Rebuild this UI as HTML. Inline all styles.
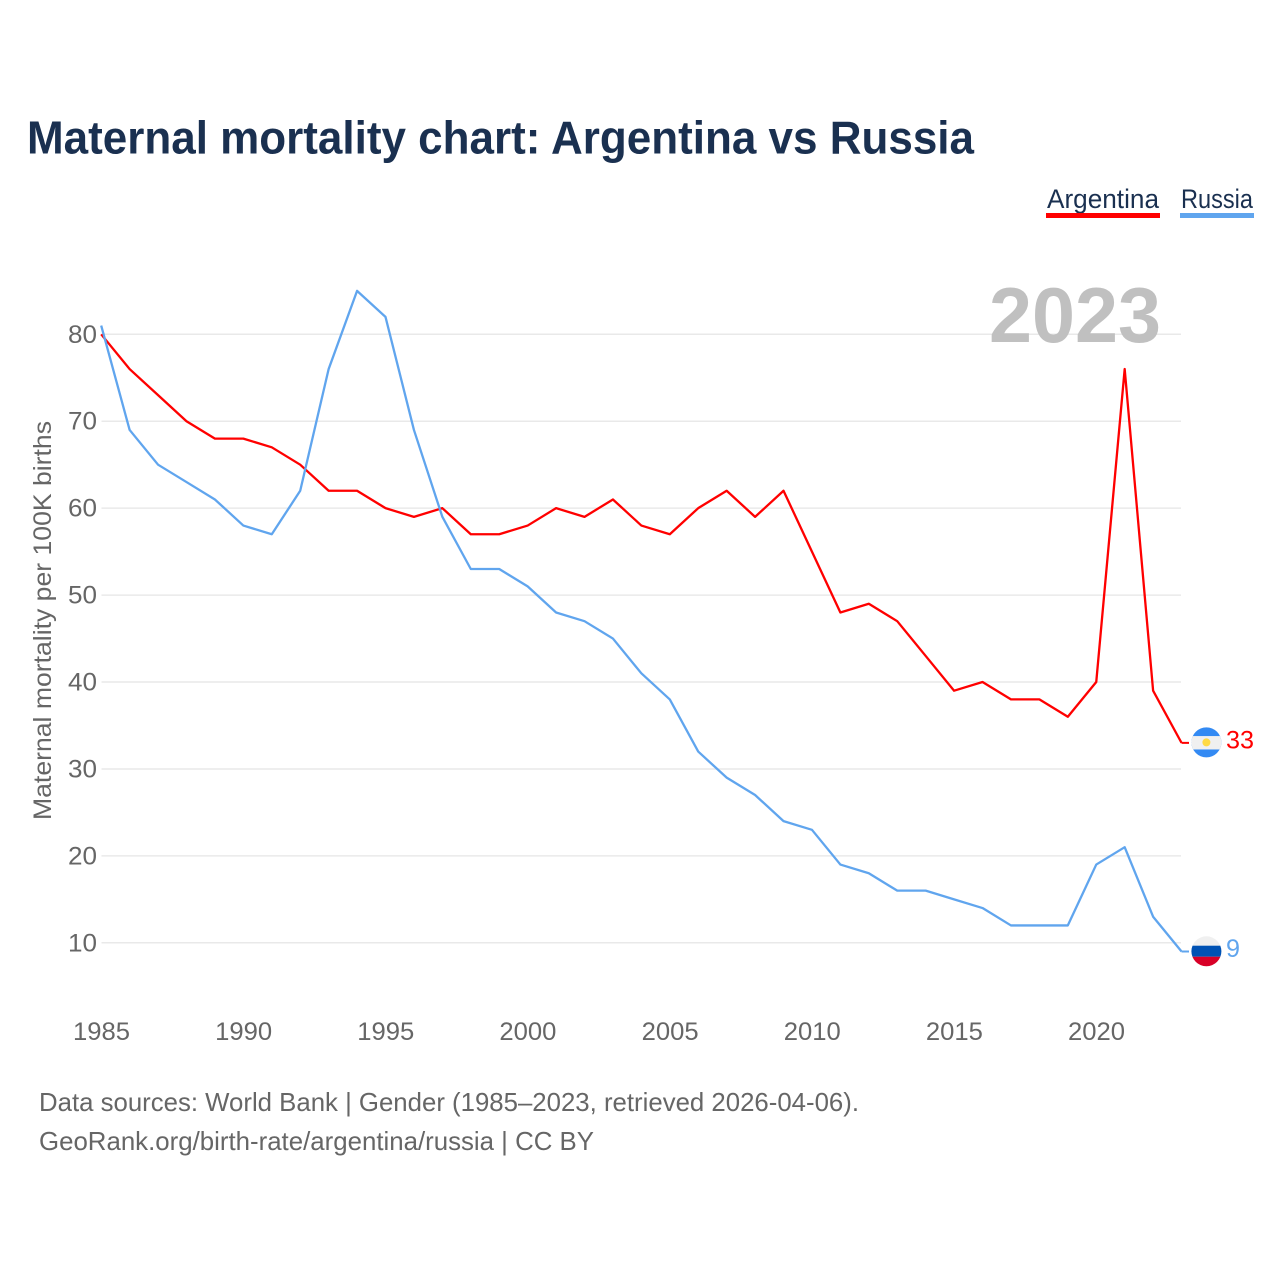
<!DOCTYPE html>
<html lang="en">
<head>
<meta charset="utf-8">
<title>Maternal mortality chart: Argentina vs Russia</title>
<style>
html,body{margin:0;padding:0;background:#fff;}
svg{display:block;font-family:"Liberation Sans",sans-serif;}
</style>
</head>
<body>
<svg id="chart" xmlns="http://www.w3.org/2000/svg" width="1280" height="1280" viewBox="0 0 1280 1280">
  <rect x="0" y="0" width="1280" height="1280" fill="#ffffff"/>
  <text x="27" y="153.5" font-size="46" font-weight="700" fill="#1a3050" textLength="947" lengthAdjust="spacingAndGlyphs">Maternal mortality chart: Argentina vs Russia</text>

  <g>
    <text x="1047" y="208" font-size="27" fill="#1a3050" textLength="112" lengthAdjust="spacingAndGlyphs">Argentina</text>
    <rect x="1046" y="213" width="114" height="5" fill="#ff0000"/>
  </g>
  <g>
    <text x="1181" y="208" font-size="27" fill="#1a3050" textLength="72" lengthAdjust="spacingAndGlyphs">Russia</text>
    <rect x="1180" y="213" width="74" height="5" fill="#60a5ee"/>
  </g>

  <g id="grid"></g>
  <g id="yticks"></g>
  <g id="xticks"></g>

  <text x="989" y="342" font-size="78" font-weight="700" fill="#c0c0c0" textLength="172" lengthAdjust="spacingAndGlyphs">2023</text>

  <text transform="translate(51 620.5) rotate(-90)" text-anchor="middle" font-size="25" fill="#666666" textLength="399" lengthAdjust="spacingAndGlyphs">Maternal mortality per 100K births</text>

  <g id="series"></g>

  <defs>
    <clipPath id="clip-ar"><circle id="clip-ar-circle" cx="1206.4" r="15"/></clipPath>
    <clipPath id="clip-ru"><circle id="clip-ru-circle" cx="1206.4" r="15"/></clipPath>
  </defs>
  <g id="flag-ar" clip-path="url(#clip-ar)"></g>
  <g id="flag-ru" clip-path="url(#clip-ru)"></g>
  <g id="end-labels"></g>

  <text x="39" y="1111" font-size="26" fill="#666666" textLength="820" lengthAdjust="spacingAndGlyphs">Data sources: World Bank | Gender (1985–2023, retrieved 2026-04-06).</text>
  <text x="39" y="1150" font-size="26" fill="#666666" textLength="555" lengthAdjust="spacingAndGlyphs">GeoRank.org/birth-rate/argentina/russia | CC BY</text>
</svg>
<script>
const years = [1985,1986,1987,1988,1989,1990,1991,1992,1993,1994,1995,1996,1997,1998,1999,2000,2001,2002,2003,2004,2005,2006,2007,2008,2009,2010,2011,2012,2013,2014,2015,2016,2017,2018,2019,2020,2021,2022,2023];
const argentina = [80,76,73,70,68,68,67,65,62,62,60,59,60,57,57,58,60,59,61,58,57,60,62,59,62,55,48,49,47,43,39,40,38,38,36,40,76,39,33];
const russia = [81,69,65,63,61,58,57,62,76,85,82,69,59,53,53,51,48,47,45,41,38,32,29,27,24,23,19,18,16,16,15,14,12,12,12,19,21,13,9];
const yTickValues = [10,20,30,40,50,60,70,80];
const xTickValues = [1985,1990,1995,2000,2005,2010,2015,2020];

const NS = 'http://www.w3.org/2000/svg';
function xScale(year){ return 101.2 + (year - 1985) * 28.43; }
function yScale(v){ return 334.3 + (80 - v) * 8.693; }
function make(tag, attrs, parent){
  const el = document.createElementNS(NS, tag);
  for (const k in attrs) el.setAttribute(k, attrs[k]);
  parent.appendChild(el);
  return el;
}

const grid = document.getElementById('grid');
const yticks = document.getElementById('yticks');
yTickValues.forEach(function(v){
  const line = make('line', {x1:101.5, x2:1181, y1:yScale(v), y2:yScale(v), stroke:'#e9e9e9', 'stroke-width':1.5}, grid);
  
  
  const t = make('text', {x:97, y:yScale(v) + 8.5, 'text-anchor':'end', 'font-size':25, fill:'#666666', textLength:29, lengthAdjust:'spacingAndGlyphs'}, yticks);
  t.textContent = v;
  
  
});

const xticks = document.getElementById('xticks');
xTickValues.forEach(function(y){
  const t = make('text', {x:xScale(y) + 0.3, y:1040, 'text-anchor':'middle', 'font-size':25, fill:'#666666', textLength:57, lengthAdjust:'spacingAndGlyphs'}, xticks);
  t.textContent = y;
  
  
});

const series = document.getElementById('series');
function pointsFor(vals){
  return vals.map(function(v, i){ return xScale(years[i]).toFixed(2) + ',' + yScale(v).toFixed(2); }).join(' ');
}
const lineAr = make('polyline', {points:pointsFor(argentina), fill:'none', stroke:'#ff0000', 'stroke-width':2.3, 'stroke-linejoin':'round'}, series);


const lineRu = make('polyline', {points:pointsFor(russia), fill:'none', stroke:'#60a5ee', 'stroke-width':2.3, 'stroke-linejoin':'round'}, series);



const lastX = xScale(years[years.length - 1]);
const arY = yScale(argentina[argentina.length - 1]);
const ruY = yScale(russia[russia.length - 1]);
const tailAr = make('line', {x1:lastX, x2:1189, y1:arY, y2:arY, stroke:'#ff0000', 'stroke-width':2}, series);


const tailRu = make('line', {x1:lastX, x2:1189, y1:ruY, y2:ruY, stroke:'#60a5ee', 'stroke-width':2}, series);



const ac = arY - 0.5;
const rc = ruY - 0.2;
document.getElementById('clip-ar-circle').setAttribute('cy', ac);
document.getElementById('clip-ru-circle').setAttribute('cy', rc);

const flagAr = document.getElementById('flag-ar');
make('rect', {x:1190, y:ac - 16, width:33, height:32, fill:'#338af3'}, flagAr);
make('rect', {x:1190, y:ac - 6.3, width:33, height:13.4, fill:'#f0f0f0'}, flagAr);
make('circle', {cx:1206.4, cy:ac, r:4, fill:'#ffda44'}, flagAr);

const flagRu = document.getElementById('flag-ru');
make('rect', {x:1190, y:rc - 16, width:33, height:32, fill:'#f0f0f0'}, flagRu);
make('rect', {x:1190, y:rc - 5.6, width:33, height:11, fill:'#0052b4'}, flagRu);
make('rect', {x:1190, y:rc + 5.4, width:33, height:11, fill:'#d80027'}, flagRu);

const endLabels = document.getElementById('end-labels');
const labelAr = make('text', {x:1226, y:arY + 5.5, 'font-size':25, fill:'#ff0000', textLength:28, lengthAdjust:'spacingAndGlyphs'}, endLabels);
labelAr.textContent = argentina[argentina.length - 1];


const labelRu = make('text', {x:1226, y:ruY + 5.5, 'font-size':25, fill:'#60a5ee', textLength:14, lengthAdjust:'spacingAndGlyphs'}, endLabels);
labelRu.textContent = russia[russia.length - 1];


</script>
</body>
</html>
